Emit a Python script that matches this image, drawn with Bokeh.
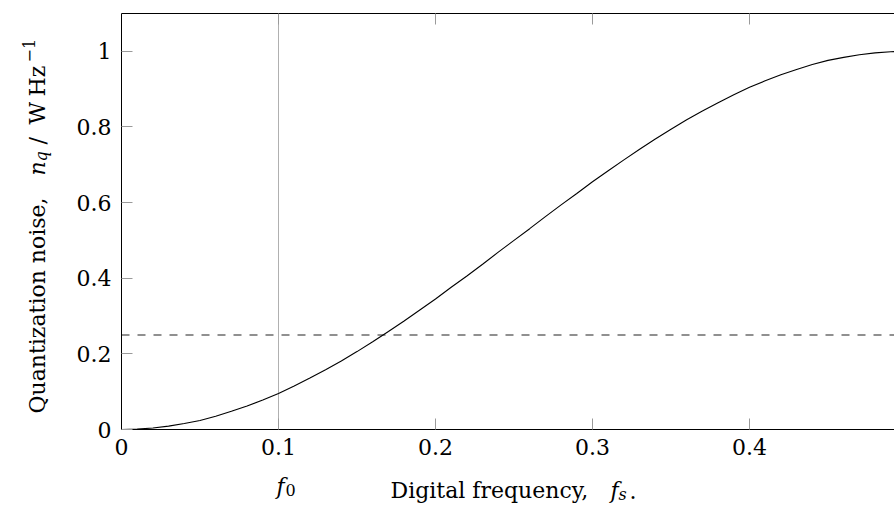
import math
from bokeh.plotting import figure
from bokeh.models import Range1d, FixedTicker, LinearAxis, Label
from bokeh.embed import file_html
from bokeh.resources import INLINE

# ---- data ----
freq = [0.00, 0.01, 0.02, 0.03, 0.04, 0.05, 0.06, 0.07, 0.08, 0.09,
        0.10, 0.11, 0.12, 0.13, 0.14, 0.15, 0.16, 0.17, 0.18, 0.19,
        0.20, 0.21, 0.22, 0.23, 0.24, 0.25, 0.26, 0.27, 0.28, 0.29,
        0.30, 0.31, 0.32, 0.33, 0.34, 0.35, 0.36, 0.37, 0.38, 0.39,
        0.40, 0.41, 0.42, 0.43, 0.44, 0.45, 0.46, 0.47, 0.48, 0.49, 0.50]
noise = [0.000, 0.001, 0.004, 0.009, 0.016, 0.024, 0.035, 0.048, 0.062, 0.078,
         0.095, 0.115, 0.136, 0.158, 0.181, 0.206, 0.232, 0.259, 0.287, 0.316,
         0.345, 0.376, 0.406, 0.437, 0.469, 0.500, 0.531, 0.563, 0.594, 0.624,
         0.655, 0.684, 0.713, 0.741, 0.768, 0.794, 0.819, 0.842, 0.864, 0.885,
         0.905, 0.922, 0.938, 0.952, 0.965, 0.976, 0.984, 0.991, 0.996, 0.999, 1.000]
threshold = 0.25
f0 = 0.1
x_ticks = [0, 0.1, 0.2, 0.3, 0.4]
x_tick_labels = ["0", "0.1", "0.2", "0.3", "0.4"]
y_ticks = [0, 0.2, 0.4, 0.6, 0.8, 1]
y_tick_labels = ["0", "0.2", "0.4", "0.6", "0.8", "1"]
y_top = 1.1

FONT = "DejaVu Serif"
FS = "22px"
SUB = "16px"
TICK_COLOR = "#9a9a9a"

# layout: canvas size and where the plot box sits (pixels)
W, H = 894, 505
LEFT, TOP, BOTTOM = 121, 13, 429
SX = 1570.0                          # px per x unit
SY = (BOTTOM - TOP) / y_top          # px per y unit
X0 = -LEFT / SX
X1 = X0 + W / SX
Y0 = -(H - BOTTOM) / SY
Y1 = Y0 + H / SY

p = figure(width=W, height=H, output_backend="svg", toolbar_location=None,
           x_range=Range1d(X0, X1), y_range=Range1d(Y0, Y1),
           min_border=0, x_axis_location=None, y_axis_location=None)
p.outline_line_color = None
p.grid.visible = False
p.background_fill_color = "white"
p.border_fill_color = "white"

def style_axis(ax, labels=True):
    ax.axis_line_color = "black"
    ax.axis_line_width = 1
    ax.major_tick_in = 11
    ax.major_tick_out = 0
    ax.major_tick_line_color = TICK_COLOR
    ax.major_tick_line_width = 1
    ax.minor_tick_line_color = None
    ax.major_label_text_font = FONT
    ax.major_label_text_font_size = FS
    ax.major_label_text_color = "black"
    if not labels:
        ax.major_label_text_font_size = "0px"
        ax.major_label_text_color = None
        ax.major_label_standoff = 0

xa = LinearAxis(ticker=FixedTicker(ticks=x_ticks), fixed_location=0, bounds=(0, X1))
xa.major_label_overrides = {t: l for t, l in zip(x_ticks, x_tick_labels)}
style_axis(xa)
xa.major_label_standoff = 9
p.add_layout(xa, "below")

ya = LinearAxis(ticker=FixedTicker(ticks=y_ticks), fixed_location=0, bounds=(0, y_top))
ya.major_label_overrides = {t: l for t, l in zip(y_ticks, y_tick_labels)}
style_axis(ya)
ya.major_label_standoff = 10
p.add_layout(ya, "left")

top = LinearAxis(ticker=FixedTicker(ticks=x_ticks), fixed_location=y_top, bounds=(0, X1))
style_axis(top, labels=False)
p.add_layout(top, "above")

# reference lines
p.line([f0, f0], [0, y_top], line_color="#b0b0b0", line_width=1)
p.line([0, X1], [threshold, threshold], line_color="#222222", line_width=1.1, line_dash="8 8")

p.line(freq, noise, line_color="black", line_width=1.1)

# pixel -> data helpers for placing text pieces
def dx(px):
    return X0 + px / SX

def dy(py):
    return Y0 + (H - py) / SY

def lab(text, px, py, size=FS, style="normal", angle=0.0, x=None):
    p.add_layout(Label(text=text, x=dx(px) if x is None else x, y=dy(py),
                       x_units="data", y_units="data", angle=angle,
                       x_offset=0 if x is None else px,
                       text_font=FONT, text_font_size=size, text_font_style=style,
                       text_color="black", text_align="left",
                       text_baseline="alphabetic"))

# f0 label under the 0.1 tick
lab("f", -2, 486, style="italic", x=f0)
lab("0", 7, 489, size=SUB, x=f0)

# x axis label: Digital frequency, f_s.
lab("Digital frequency,", 390, 490)
lab("f", 610, 490, style="italic")
lab("s", 618, 494, size=SUB, style="italic")
lab(".", 629, 490)

# y axis label: Quantization noise, n_q / W Hz^-1  (rotated)
A = math.pi / 2
lab("Quantization noise,", 37, 413, angle=A)
lab("n", 37, 175, style="italic", angle=A)
lab("q", 41, 161, size=SUB, style="italic", angle=A)
lab("/", 37, 144, angle=A)
lab("W", 37, 124, angle=A)
lab("Hz", 37, 96, angle=A)
lab("\u22121", 28, 62, size=SUB, angle=A)

open("out.html", "w").write(file_html(p, INLINE))
